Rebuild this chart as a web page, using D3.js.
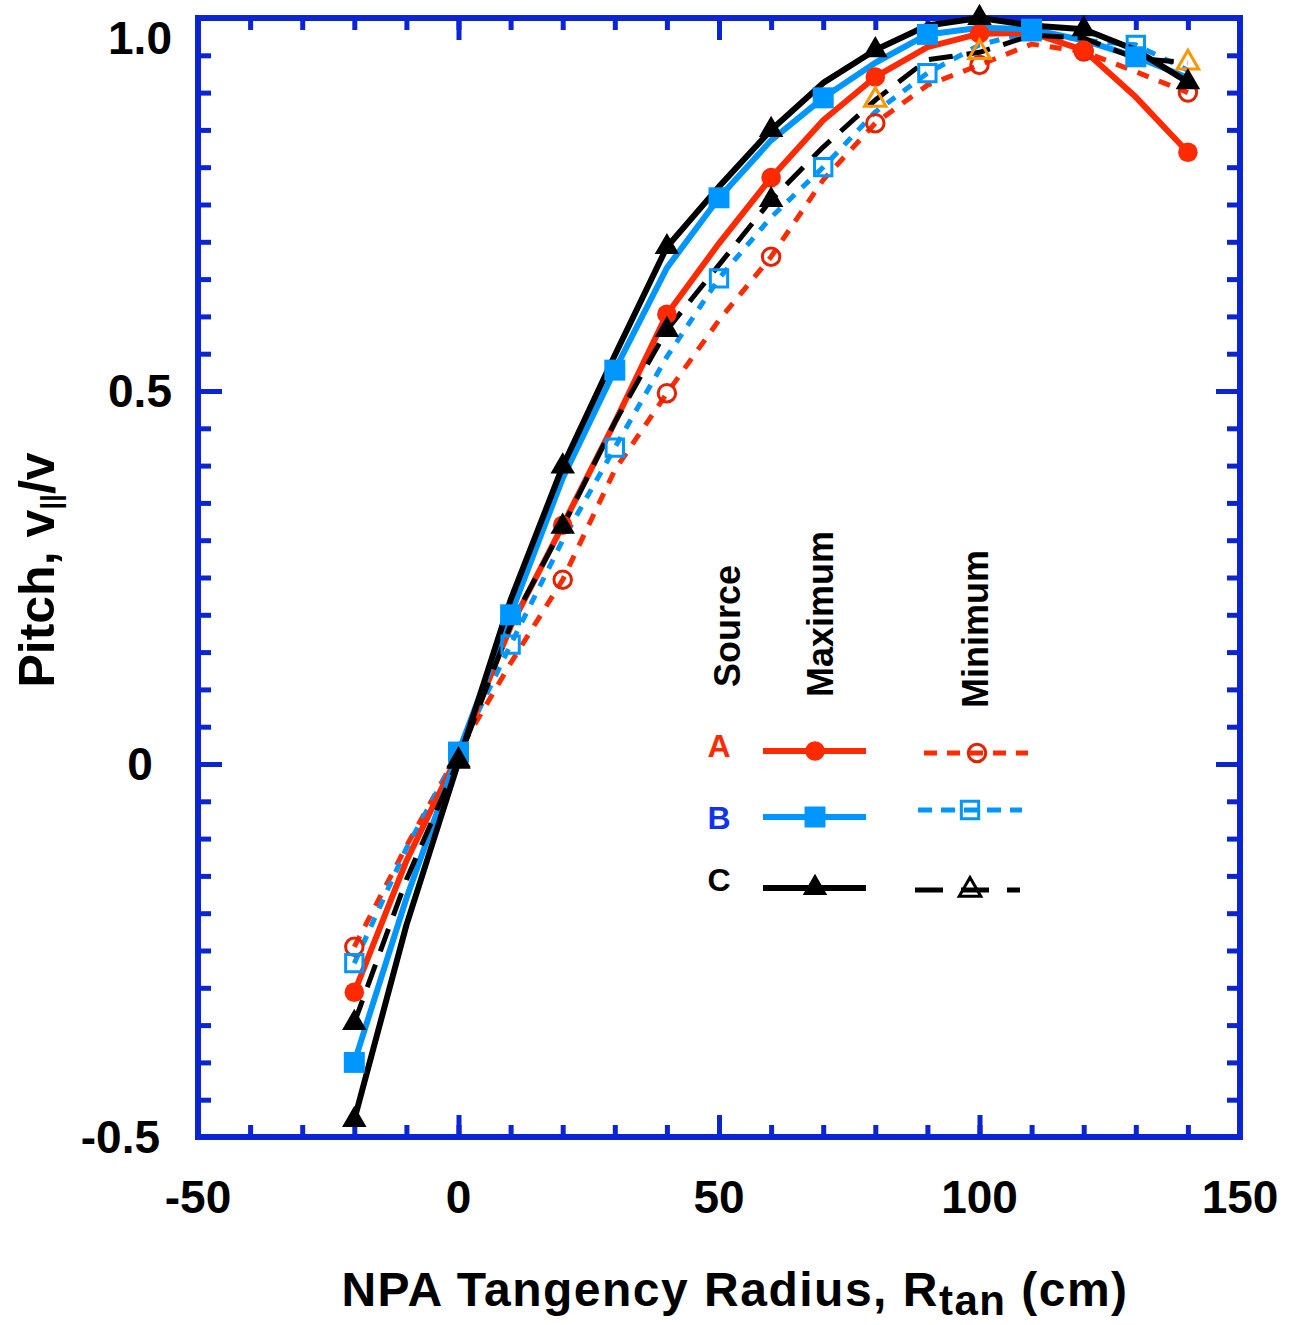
<!DOCTYPE html>
<html>
<head>
<meta charset="utf-8">
<script src="https://cdn.jsdelivr.net/npm/d3@7"></script>
<style>
  body { margin: 0; background: #fff; }
  text { font-family: "Liberation Sans", Arial, sans-serif; font-weight: bold; }
</style>
</head>
<body>
<div id="chart"></div>
<script>
(function() {

// tangency radius (cm) for every line point
var radius = [-20, -10, 0, 10, 20, 30, 40, 50, 60, 70, 80, 90, 100, 110, 120, 130, 140];

// pitch values
var aMax = [-0.306, -0.13, 0.014, 0.184, 0.32, 0.458, 0.603, 0.698, 0.786, 0.863, 0.921, 0.961, 0.979, 0.98, 0.957, 0.894, 0.82];
var bMax = [-0.40, -0.18, 0.016, 0.20, 0.383, 0.528, 0.665, 0.759, 0.836, 0.893, 0.94, 0.978, 0.987, 0.985, 0.97, 0.948, 0.92];
var cMax = [-0.477, -0.216, 0.003, 0.22, 0.399, 0.548, 0.693, 0.774, 0.85, 0.913, 0.957, 0.99, 1.0, 0.99, 0.985, 0.957, 0.914];
var aMin = [-0.245, -0.11, 0.016, 0.135, 0.247, 0.394, 0.497, 0.595, 0.68, 0.783, 0.859, 0.91, 0.937, 0.965, 0.955, 0.928, 0.90];
var bMin = [-0.267, -0.113, 0.016, 0.16, 0.30, 0.424, 0.546, 0.651, 0.733, 0.80, 0.874, 0.926, 0.964, 0.982, 0.97, 0.964, 0.93];
var cMin = [-0.347, -0.155, 0.005, 0.186, 0.318, 0.458, 0.582, 0.669, 0.756, 0.827, 0.89, 0.944, 0.954, 0.977, 0.973, 0.946, 0.94];

// where the markers sit on each line
var evenMarks = [-20, 0, 20, 40, 60, 80, 100, 120, 140];
var oddMarks = [-20, 0, 10, 30, 50, 70, 90, 110, 130];
var cMinMarks = [-20, 0, 20, 40, 60, 80, 100, 140];
var cMinOpen = [80, 100, 140];   // these are drawn as open orange triangles

var xTicks = [-50, 0, 50, 100, 150];
var xTickLabels = ['-50', '0', '50', '100', '150'];
var yTicks = [-0.5, 0, 0.5, 1.0];
var yTickLabels = ['-0.5', '0', '0.5', '1.0'];

var sources = ['A', 'B', 'C'];

var red = '#ff2a00', blue = '#0096ff', black = '#000', orange = '#ff9500', frame = '#0b25d5';

var W = 1293, H = 1325;
var margin = {top: 18, right: 53, bottom: 188, left: 198},
    width = W - margin.left - margin.right,
    height = H - margin.top - margin.bottom;

var x = d3.scaleLinear().domain([-50, 150]).range([0, width]);
var y = d3.scaleLinear().domain([-0.5, 1.0]).range([height, 0]);

var svg = d3.select('#chart').append('svg')
    .attr('width', W).attr('height', H);
var g = svg.append('g')
    .attr('transform', 'translate(' + margin.left + ',' + margin.top + ')');

// inward ticks on all four sides
function tickGroup(axis, tr) {
  var a = g.append('g').attr('transform', tr).call(axis);
  a.select('.domain').remove();
  a.selectAll('text').remove();
  a.selectAll('line').attr('stroke', frame).attr('stroke-width', 5);
}
var xMinor = d3.range(-40, 150, 10);
var yMinor = d3.range(-0.45, 1.0, 0.05);
tickGroup(d3.axisBottom(x).tickValues(xMinor).tickSize(-12), 'translate(0,' + height + ')');
tickGroup(d3.axisBottom(x).tickValues(xTicks).tickSize(-22), 'translate(0,' + height + ')');
tickGroup(d3.axisTop(x).tickValues(xMinor).tickSize(-12), 'translate(0,0)');
tickGroup(d3.axisTop(x).tickValues(xTicks).tickSize(-22), 'translate(0,0)');
tickGroup(d3.axisLeft(y).tickValues(yMinor).tickSize(-13), 'translate(0,0)');
tickGroup(d3.axisLeft(y).tickValues(yTicks).tickSize(-24), 'translate(0,0)');
tickGroup(d3.axisRight(y).tickValues(yMinor).tickSize(-13), 'translate(' + width + ',0)');
tickGroup(d3.axisRight(y).tickValues(yTicks).tickSize(-24), 'translate(' + width + ',0)');

g.append('rect')
    .attr('width', width).attr('height', height)
    .attr('fill', 'none').attr('stroke', frame).attr('stroke-width', 6);

// tick labels
g.selectAll('.xlab')
    .data(xTicks)
  .enter().append('text')
    .attr('class', 'xlab')
    .attr('x', function(d) { return x(d); })
    .attr('y', height + 76)
    .attr('text-anchor', 'middle')
    .style('font-size', '46px')
    .text(function(d, i) { return xTickLabels[i]; });

g.selectAll('.ylab')
    .data(yTicks)
  .enter().append('text')
    .attr('class', 'ylab')
    .attr('x', -58)
    .attr('y', function(d) { return Math.max(y(d), 20) + 16; })
    .attr('text-anchor', function(d) { return d < 0 ? 'end' : 'middle'; })
    .attr('dx', function(d) { return d < 0 ? 20 : 0; })
    .style('font-size', '46px')
    .text(function(d, i) { return yTickLabels[i]; });

// lines
function series(vals) {
  return radius.map(function(r, i) { return {r: r, p: vals[i]}; });
}
var line = d3.line()
    .x(function(d) { return x(d.r); })
    .y(function(d) { return y(d.p); });

var lines = [
  {vals: aMin, color: red, dash: '12,11', w: 5},
  {vals: bMin, color: blue, dash: '10,10', w: 5},
  {vals: aMax, color: red, dash: null, w: 6},
  {vals: bMax, color: blue, dash: null, w: 6},
  {vals: cMin, color: black, dash: '24,14', w: 5},
  {vals: cMax, color: black, dash: null, w: 6}
];
lines.forEach(function(s) {
  g.append('path')
      .datum(series(s.vals))
      .attr('fill', 'none')
      .attr('stroke', s.color)
      .attr('stroke-width', s.w)
      .attr('stroke-dasharray', s.dash)
      .attr('stroke-linejoin', 'round')
      .attr('d', line);
});

// markers
var circleSym = d3.symbol().type(d3.symbolCircle);
var squareSym = d3.symbol().type(d3.symbolSquare);
var triSym = d3.symbol().type(d3.symbolTriangle);

function marks(vals, where, sym, size, fill, stroke, sw) {
  var pts = series(vals).filter(function(d) { return where.indexOf(d.r) >= 0; });
  g.selectAll(null)
      .data(pts)
    .enter().append('path')
      .attr('transform', function(d) { return 'translate(' + x(d.r) + ',' + y(d.p) + ')'; })
      .attr('d', sym.size(size)())
      .attr('fill', fill)
      .attr('stroke', stroke)
      .attr('stroke-width', sw);
}
marks(aMin, evenMarks, circleSym, 240, 'none', '#e52200', 3);
marks(bMin, oddMarks, squareSym, 300, 'none', blue, 3);
marks(aMax, evenMarks, circleSym, 300, red, 'none', 0);
marks(bMax, oddMarks, squareSym, 440, blue, 'none', 0);
marks(cMin, cMinMarks.filter(function(r) { return cMinOpen.indexOf(r) < 0; }), triSym, 260, black, 'none', 0);
marks(cMin, cMinOpen, triSym, 200, 'none', orange, 3);
marks(cMax, evenMarks, triSym, 260, black, 'none', 0);

// legend
var lg = svg.append('g');
[['Source', 740, 626], ['Maximum', 833, 614], ['Minimum', 988, 629]].forEach(function(t) {
  lg.append('text')
      .attr('transform', 'translate(' + t[1] + ',' + t[2] + ') rotate(-90)')
      .attr('text-anchor', 'middle')
      .style('font-size', '36px')
      .text(t[0]);
});

var legRows = [
  {label: sources[0], lc: red, ly: 757, maxY: 751, minY: 753, color: red, sym: circleSym,
   maxSize: 300, minSize: 240, minStroke: '#e52200', minX: [924, 1028], minMark: 977, dash: '13,10'},
  {label: sources[1], lc: '#1133ee', ly: 829, maxY: 817, minY: 810, color: blue, sym: squareSym,
   maxSize: 440, minSize: 300, minStroke: blue, minX: [918, 1022], minMark: 970, dash: '14,9'},
  {label: sources[2], lc: black, ly: 891, maxY: 888, minY: 890, color: black, sym: triSym,
   maxSize: 260, minSize: 200, minStroke: black, minX: [915, 1020], minMark: 970, dash: '28,18'}
];
legRows.forEach(function(r) {
  lg.append('text')
      .attr('x', 719).attr('y', r.ly)
      .attr('text-anchor', 'middle')
      .attr('fill', r.lc)
      .style('font-size', '32px')
      .text(r.label);
  lg.append('line')
      .attr('x1', 763).attr('x2', 866).attr('y1', r.maxY).attr('y2', r.maxY)
      .attr('stroke', r.color).attr('stroke-width', 6);
  lg.append('path')
      .attr('transform', 'translate(815,' + r.maxY + ')')
      .attr('d', r.sym.size(r.maxSize)())
      .attr('fill', r.color);
  lg.append('line')
      .attr('x1', r.minX[0]).attr('x2', r.minX[1]).attr('y1', r.minY).attr('y2', r.minY)
      .attr('stroke', r.color).attr('stroke-width', 5)
      .attr('stroke-dasharray', r.dash);
  lg.append('path')
      .attr('transform', 'translate(' + r.minMark + ',' + r.minY + ')')
      .attr('d', r.sym.size(r.minSize)())
      .attr('fill', 'none')
      .attr('stroke', r.minStroke).attr('stroke-width', 3);
});

// axis titles
var yt = svg.append('text')
    .attr('transform', 'translate(54,570) rotate(-90)')
    .attr('text-anchor', 'middle')
    .style('font-size', '50px');
yt.append('tspan').text('Pitch, v');
yt.append('tspan').attr('dy', 6).style('font-size', '28px').text('||');
yt.append('tspan').attr('dy', -6).text('/v');

var xt = svg.append('text')
    .attr('x', 735).attr('y', 1306)
    .attr('text-anchor', 'middle')
    .style('font-size', '48px')
    .style('letter-spacing', '1.5px');
xt.append('tspan').text('NPA Tangency Radius, R');
xt.append('tspan').attr('dy', 9).style('font-size', '42px').text('tan');
xt.append('tspan').attr('dy', -9).text(' (cm)');

})();
</script>
</body>
</html>
